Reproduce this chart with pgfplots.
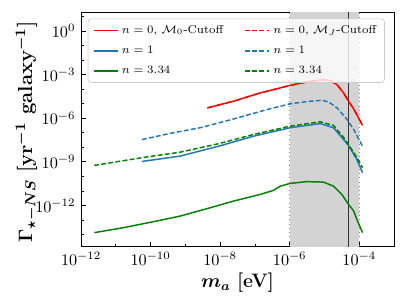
\documentclass[border=0pt]{standalone}
\usepackage{amsmath}
\usepackage{pgfplots}
\pgfplotsset{compat=1.18}
\definecolor{mred}{RGB}{255,0,0}
\definecolor{mblue}{RGB}{31,119,180}
\definecolor{mgreen}{RGB}{0,128,0}
\definecolor{shade}{RGB}{211,211,211}
\begin{document}
\begin{tikzpicture}
\begin{axis}[
  scale only axis,
  width=193pt, height=144pt,
  xmode=log, ymode=log,
  xmin=1e-12, xmax=1e-3,
  ymin=1.5e-15, ymax=18,
  xtick={1e-12,1e-10,1e-8,1e-6,1e-4},
  minor xtick={1e-11,1e-9,1e-7,1e-5,1e-3},
  ytick={1e0,1e-3,1e-6,1e-9,1e-12},
  minor ytick={1e1,1e-1,1e-2,1e-4,1e-5,1e-7,1e-8,1e-10,1e-11,1e-13,1e-14,1e-15},
  tick align=inside,
  xtick pos=bottom, ytick pos=left,
  major tick length=3pt, minor tick length=1.8pt,
  every tick/.style={black, line width=0.5pt},
  axis line style={line width=0.6pt},
  xlabel={$\boldsymbol{m_a}$ \textbf{[eV]}},
  ylabel={$\boldsymbol{\Gamma_{\star-NS}}$ \textbf{[yr$^{\boldsymbol{-1}}$ galaxy$^{\boldsymbol{-1}}$]}},
  xlabel style={font=\large, at={(axis description cs:0.5,-0.155)}, anchor=center},
  ylabel style={font=\fontsize{12.5}{15}\selectfont, at={(axis description cs:-0.174,0.49)}, anchor=center},
  legend columns=2,
  legend cell align=left,
  legend image code/.code={\draw[#1] (0pt,0pt) -- (15pt,0pt);},
  legend style={at={(0.021,0.976)}, anchor=north west, font=\scriptsize,
    fill=white, fill opacity=0.8, text opacity=1, draw=gray!40,
    rounded corners=2pt, row sep=2.4pt, inner xsep=3pt, inner ysep=2pt,
    /tikz/column 2/.style={column sep=11pt}},
]
% shaded band
\addplot[fill=shade, draw=none, forget plot] coordinates {(1e-6,1e-20) (1e-4,1e-20) (1e-4,1e5) (1e-6,1e5)} -- cycle;
\addplot[gray, dotted, line width=0.6pt, forget plot] coordinates {(1e-6,1e-20) (1e-6,1e5)};
\addplot[gray, dotted, line width=0.6pt, forget plot] coordinates {(1e-4,1e-20) (1e-4,1e5)};
\addplot[black!80, line width=0.6pt, forget plot] coordinates {(5e-5,1e-20) (5e-5,1e5)};

% n=0, MJ cutoff (dashed red, hidden under solid)
\addplot[mred, dashed, line width=0.9pt, forget plot] coordinates {
(4.32e-9,5.25e-6) (2.42e-8,1.51e-5) (1.42e-7,5.62e-5) (1.03e-6,1.86e-4) (3.89e-6,3.55e-4)
(9.33e-6,4.68e-4) (1.46e-5,3.98e-4) (2.29e-5,2.09e-4) (3.55e-5,5.62e-5) (4.90e-5,1.51e-5)
(6.92e-5,4.47e-6) (9.55e-5,1.07e-6) (1.245e-4,3.24e-7)};
% n=1 MJ (dashed blue)
\addplot[mblue, dash pattern=on 3pt off 1.4pt, line width=0.9pt, forget plot] coordinates {
(5.62e-11,3.47e-8) (3.63e-10,9.12e-8) (2.63e-9,2.24e-7) (2.40e-8,8.91e-7) (2.19e-7,3.98e-6)
(1.02e-6,1.0e-5) (3.89e-6,1.51e-5) (8.51e-6,1.74e-5) (1.32e-5,1.35e-5) (2.29e-5,5.25e-6)
(4.47e-5,8.32e-7) (6.92e-5,1.70e-7) (1.245e-4,1.20e-8)};
% n=1 M0 (solid blue)
\addplot[mblue, line width=0.9pt, forget plot] coordinates {
(5.62e-11,1.07e-9) (7.08e-10,2.51e-9) (8.91e-9,1.20e-8) (9.12e-8,5.89e-8) (1.02e-6,2.24e-7)
(7.59e-6,4.37e-7) (1.82e-5,2.24e-7) (3.55e-5,3.47e-8) (4.90e-5,1.35e-8) (8.51e-5,1.48e-9)
(1.245e-4,1.78e-10)};
% n=3.34 MJ (dashed green)
\addplot[mgreen, dash pattern=on 3pt off 1.4pt, line width=0.9pt, forget plot] coordinates {
(2.40e-12,5.75e-10) (5.62e-11,1.95e-9) (7.08e-10,4.68e-9) (8.91e-9,1.78e-8) (9.12e-8,7.76e-8)
(1.02e-6,2.88e-7) (7.59e-6,5.75e-7) (1.82e-5,3.24e-7) (3.55e-5,4.79e-8) (4.90e-5,1.58e-8)
(8.51e-5,2.04e-9) (1.245e-4,3.98e-10)};
% n=3.34 M0 (solid green)
\addplot[mgreen, line width=0.9pt, forget plot] coordinates {
(2.42e-12,1.35e-14) (1.65e-11,2.95e-14) (1.51e-10,8.51e-14) (7.08e-10,1.86e-13) (4.17e-9,6.03e-13)
(2.42e-8,2.0e-12) (1.42e-7,5.75e-12) (3.42e-7,1.10e-11) (5.37e-7,2.14e-11) (1.03e-6,3.31e-11)
(3.13e-6,4.37e-11) (9.40e-6,4.07e-11) (1.82e-5,2.14e-11) (3.16e-5,5.75e-12) (4.90e-5,1.20e-12)
(6.92e-5,4.17e-13) (8.51e-5,1.10e-13) (1.245e-4,1.35e-14)};
% n=0 M0 (solid red)
\addplot[mred, line width=0.9pt, forget plot] coordinates {
(4.32e-9,5.25e-6) (2.42e-8,1.51e-5) (1.42e-7,5.62e-5) (1.03e-6,1.86e-4) (3.89e-6,3.55e-4)
(9.33e-6,4.68e-4) (1.46e-5,3.98e-4) (2.29e-5,2.09e-4) (3.55e-5,5.62e-5) (4.90e-5,1.51e-5)
(6.92e-5,4.47e-6) (9.55e-5,1.07e-6) (1.245e-4,3.24e-7)};

\addlegendimage{mred, line width=0.9pt}
\addlegendentry{$n=0$, $\mathcal{M}_0$-Cutoff}
\addlegendimage{mred, dash pattern=on 3pt off 1.4pt, line width=0.9pt}
\addlegendentry{$n=0$, $\mathcal{M}_J$-Cutoff}
\addlegendimage{mblue, line width=0.9pt}
\addlegendentry{$n=1$}
\addlegendimage{mblue, dash pattern=on 3pt off 1.4pt, line width=0.9pt}
\addlegendentry{$n=1$}
\addlegendimage{mgreen, line width=0.9pt}
\addlegendentry{$n=3.34$}
\addlegendimage{mgreen, dash pattern=on 3pt off 1.4pt, line width=0.9pt}
\addlegendentry{$n=3.34$}
\end{axis}
\path (current axis.south west) ++(-50pt,-36pt) coordinate (bl);
\path (current axis.north east) ++(8pt,8pt) coordinate (tr);
\pgfresetboundingbox
\path[use as bounding box] (bl) rectangle (tr);
\end{tikzpicture}
\end{document}
